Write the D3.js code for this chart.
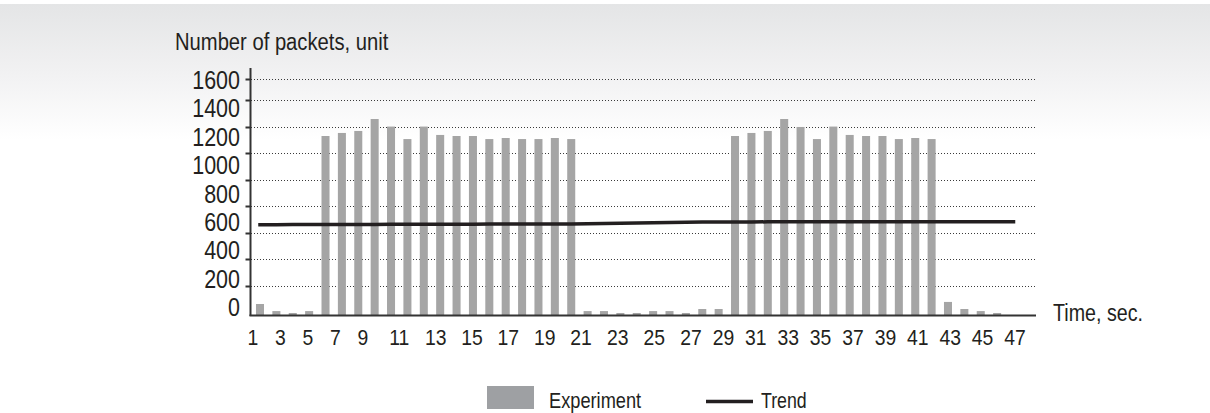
<!DOCTYPE html>
<html><head><meta charset="utf-8">
<script src="https://cdn.jsdelivr.net/npm/d3@7"></script>
<style>html,body{margin:0;padding:0;background:#fff;} svg{display:block;}</style>
</head><body>
<svg id="chart" width="1210" height="413"></svg>
<script>
// ---- data ----
const categories = [1,2,3,4,5,6,7,8,9,10,11,12,13,14,15,16,17,18,19,20,21,22,23,24,25,26,27,28,29,30,31,32,33,34,35,36,37,38,39,40,41,42,43,44,45,46,47];
const experiment = [78,30,17,30,1329,1352,1367,1457,1400,1306,1400,1337,1329,1329,1306,1314,1306,1306,1314,1306,
                    30,30,17,17,30,30,17,44,44,
                    1329,1352,1367,1457,1397,1306,1400,1337,1329,1329,1306,1314,1306,
                    92,44,30,17,0];
const trend = [661,661,662,662,662,663,663,663,664,664,664,665,665,665,666,666,666,667,667,667,
               668,670,672,674,676,678,680,681,682,
               682,682,683,683,683,683,683,683,684,684,684,684,684,684,684,684,684,684];
const xTickLabels = [1,3,5,7,9,11,13,15,17,19,21,23,25,27,29,31,33,35,37,39,41,43,45,47];
const yTickLabels = ["0","200","400","600","800","1000","1200","1400","1600"];
const gridValues = [200,400,600,800,1000,1200,1400,1600,1800];
const seriesNames = ["Experiment","Trend"];
const yTitle = "Number of packets, unit";
const xTitle = "Time, sec.";

// ---- styles ----
const FONT = "'Liberation Sans Narrow','Liberation Sans',Arial,sans-serif";
const TXT = "#231f20";
const BAR = "#a5a5a5";

const svg = d3.select("#chart");
const defs = svg.append("defs");
const grad = defs.append("linearGradient").attr("id","bg").attr("x1",0).attr("y1",0).attr("x2",0).attr("y2",1);
grad.append("stop").attr("offset","0").attr("stop-color","#e4e5e6");
grad.append("stop").attr("offset","0.5").attr("stop-color","#f1f1f2");
grad.append("stop").attr("offset","1").attr("stop-color","#ffffff");
svg.append("rect").attr("x",0).attr("y",4).attr("width",1210).attr("height",136).attr("fill","url(#bg)");

// condensed text helper (horizontal squeeze to mimic a condensed face)
function label(sel, size, sx, anchor) {
  return sel.attr("font-family",FONT).attr("font-size",size).attr("fill",TXT)
    .attr("text-anchor",anchor || "start")
    .attr("transform", function(){ return d3.select(this).attr("data-t") + ` scale(${sx},1)`; });
}

// ---- scales ----
const x = d3.scaleBand().domain(categories).range([251.8, 1021.7]).paddingInner(0.51).paddingOuter(0.255);
const y = d3.scaleLinear().domain([0,200,1600,1800]).range([315.5,286,100,78.5]);
const xLabel = d3.scaleLinear().domain([1,9,21,27,47]).range([253,363,581,691,1015]);
const yLabel = d3.scalePoint().domain(yTickLabels).range([307,80]);
const bw = x.bandwidth();

// gridlines
svg.append("g").selectAll("line").data(gridValues).join("line")
  .attr("x1",251).attr("x2",1036)
  .attr("y1",d=>Math.round(y(d))+0.5).attr("y2",d=>Math.round(y(d))+0.5)
  .attr("stroke","#3a3a3a").attr("stroke-width",1).attr("stroke-dasharray","1,2");

// bars
svg.append("g").selectAll("rect").data(categories).join("rect")
  .attr("x",(c)=>x(c)).attr("width",bw)
  .attr("y",(c,i)=>y(experiment[i])).attr("height",(c,i)=>y(0)-y(experiment[i]))
  .attr("fill",BAR);

// axes
svg.append("line").attr("x1",250.5).attr("x2",250.5).attr("y1",68).attr("y2",316)
  .attr("stroke","#333").attr("stroke-width",2);
svg.append("g").selectAll("line").data(gridValues).join("line")
  .attr("x1",245.5).attr("x2",250.5)
  .attr("y1",d=>Math.round(y(d))+0.5).attr("y2",d=>Math.round(y(d))+0.5)
  .attr("stroke","#333").attr("stroke-width",2);
svg.append("line").attr("x1",249.5).attr("x2",1036).attr("y1",y(0)).attr("y2",y(0))
  .attr("stroke","#333").attr("stroke-width",1.8);

// trend line
const line = d3.line().x((d,i)=>x(categories[i])+bw/2).y(d=>y(d));
svg.append("path").datum(trend).attr("d",line)
  .attr("fill","none").attr("stroke",TXT).attr("stroke-width",3.5).attr("stroke-linecap","square");

// y tick labels
label(svg.append("g").selectAll("text").data(yTickLabels).join("text")
  .attr("data-t",d=>`translate(240,${yLabel(d)+9})`).text(d=>d), 25, 0.86, "end");

// x tick labels
label(svg.append("g").selectAll("text").data(xTickLabels).join("text")
  .attr("data-t",d=>`translate(${xLabel(d)},345)`).text(d=>d), 22, 0.88, "middle");

// titles
label(svg.append("text").attr("data-t","translate(175,50)").text(yTitle), 24.5, 0.825);
label(svg.append("text").attr("data-t","translate(1053,321)").text(xTitle), 24, 0.82);

// legend
const lg = svg.append("g");
lg.append("rect").attr("x",487).attr("y",386).attr("width",47).attr("height",23).attr("fill","#9ea0a3");
label(lg.append("text").attr("data-t","translate(549,408)").text(seriesNames[0]), 22.5, 0.81);
lg.append("line").attr("x1",706).attr("x2",753).attr("y1",401.5).attr("y2",401.5).attr("stroke",TXT).attr("stroke-width",3.5);
label(lg.append("text").attr("data-t","translate(761,408)").text(seriesNames[1]), 22.5, 0.79);
</script>
</body></html>
